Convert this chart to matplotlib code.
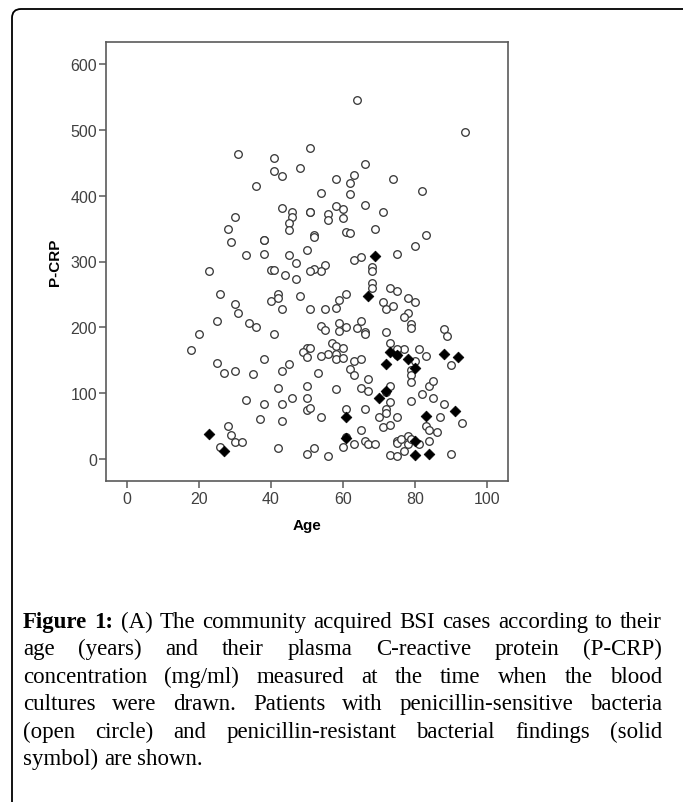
import matplotlib
matplotlib.use("Agg")
import matplotlib.pyplot as plt
from matplotlib.patches import FancyBboxPatch
from matplotlib.transforms import IdentityTransform

# penicillin-sensitive (open circles): age, P-CRP
sens_age = [64, 94, 31, 51, 41, 41, 43, 48, 66, 58, 63, 62, 62, 74, 82, 36, 54, 43, 46, 46,
            45, 45, 51, 51, 56, 56, 58, 60, 60, 61, 62, 66, 71, 69, 83, 80, 30, 28, 29, 33,
            38, 38, 38, 45, 47, 52, 52, 50, 55, 54, 52, 51, 40, 41, 44, 47, 23, 63, 65, 68,
            68, 68, 68, 75, 26, 30, 31, 25, 34, 36, 40, 42, 42, 43, 48, 51, 55, 58, 59, 61,
            59, 59, 61, 54, 55, 41, 20, 18, 71, 72, 73, 75, 74, 78, 80, 78, 77, 79, 79, 65,
            64, 66, 66, 72, 88, 89, 73, 57, 58, 60, 56, 58, 58, 60, 54, 50, 51, 49, 50, 63,
            65, 62, 63, 67, 25, 27, 30, 35, 38, 43, 45, 53, 33, 38, 42, 43, 46, 50, 50, 50,
            51, 54, 37, 43, 58, 61, 65, 67, 66, 70, 71, 73, 72, 72, 73, 73, 72, 75, 79, 82,
            84, 85, 85, 88, 87, 83, 84, 86, 84, 93, 90, 81, 83, 77, 75, 80, 79, 79, 79, 75,
            28, 29, 30, 32, 26, 42, 50, 52, 56, 60, 61, 63, 65, 66, 67, 69, 73, 75, 75, 75,
            76, 77, 78, 78, 79, 81, 90]
sens_crp = [545, 497, 464, 472, 458, 438, 430, 443, 448, 425, 432, 420, 403, 425, 408, 415, 404, 382, 376, 368,
            358, 348, 376, 376, 372, 363, 384, 380, 366, 345, 344, 386, 376, 349, 341, 324, 367, 349, 329, 310,
            332, 332, 312, 310, 298, 340, 338, 318, 295, 286, 288, 285, 287, 287, 279, 273, 285, 302, 307, 292,
            285, 268, 260, 311, 250, 235, 222, 210, 207, 200, 240, 250, 244, 228, 248, 228, 228, 230, 242, 250,
            207, 194, 201, 202, 196, 190, 189, 165, 239, 228, 260, 255, 233, 245, 239, 221, 216, 205, 199, 209,
            199, 192, 190, 193, 197, 187, 176, 176, 172, 168, 159, 159, 151, 153, 156, 169, 168, 163, 154, 148,
            151, 137, 127, 121, 146, 130, 134, 129, 151, 134, 144, 130, 89, 83, 107, 83, 93, 111, 92, 74,
            77, 64, 60, 57, 106, 75, 107, 103, 76, 64, 48, 51, 75, 69, 111, 86, 101, 64, 87, 99,
            111, 118, 93, 83, 64, 50, 43, 40, 27, 54, 143, 167, 156, 167, 167, 148, 135, 127, 116, 158,
            50, 36, 26, 25, 18, 16, 7, 16, 4, 17, 33, 22, 44, 27, 22, 22, 6, 4, 27, 24,
            30, 11, 35, 22, 30, 22, 7]

# penicillin-resistant (solid diamonds)
res_age = [23, 27, 69, 67, 73, 75, 72, 78, 80, 88, 92, 72, 70, 61, 83, 91, 61, 80, 80, 84]
res_crp = [38, 11, 309, 248, 162, 157, 144, 151, 138, 159, 155, 103, 92, 64, 65, 73, 32, 27, 6, 7]

x_ticks = [0, 20, 40, 60, 80, 100]
y_ticks = [0, 100, 200, 300, 400, 500, 600]

caption_lines = [
    "(A) The community acquired BSI cases according to their",
    "age (years) and their plasma C-reactive protein (P-CRP)",
    "concentration (mg/ml) measured at the time when the blood",
    "cultures were drawn. Patients with penicillin-sensitive bacteria",
    "(open circle) and penicillin-resistant bacterial findings (solid",
    "symbol) are shown.",
]

fig = plt.figure(figsize=(6.83, 8.03), dpi=100)
ax = fig.add_axes([106 / 683, 1 - 482 / 803, 402 / 683, 439 / 803])

ax.scatter(sens_age, sens_crp, s=30, facecolors="white", edgecolors="#3a3a3a", linewidths=0.95, zorder=2)
ax.scatter(res_age, res_crp, s=30, marker="D", color="black", linewidths=0.5, zorder=3)

ax.set_xlim(-5.7, 105.8)
ax.set_ylim(-34, 634)
ax.set_xticks(x_ticks)
ax.set_yticks(y_ticks)
for sp in ax.spines.values():
    sp.set_color("#5a5a5a")
    sp.set_linewidth(1.2)
ax.tick_params(axis="both", length=5, width=1.1, color="#5a5a5a",
               labelsize=11.5, labelcolor="#404040", pad=1.5)
ax.tick_params(axis="x", pad=2.5)
for lab in ax.get_xticklabels() + ax.get_yticklabels():
    lab.set_family("Liberation Sans")
ax.set_xlabel("Age", fontsize=11, fontweight="bold", family="Liberation Sans", labelpad=8)
ax.set_ylabel("P-CRP", fontsize=11, fontweight="bold", family="Liberation Sans", labelpad=6)

# outer rounded frame
frame = FancyBboxPatch((12, -20), 700, 813, boxstyle="round,pad=0,rounding_size=9",
                       transform=IdentityTransform(), fill=False, edgecolor="black", linewidth=1.3)
fig.patches.append(frame)

# justified caption
renderer = fig.canvas.get_renderer()
left, right = 23, 662
y0, dy = 803 - 628, 27.4
fs = 16.5
cap_font = "Liberation Serif"

def word_width(w, weight="normal"):
    t = fig.text(0, 0, w, fontsize=fs, family=cap_font, fontweight=weight, transform=IdentityTransform())
    wd = t.get_window_extent(renderer).width
    t.remove()
    return wd

for i, line in enumerate(caption_lines):
    y = y0 - i * dy
    words = [(w, "normal") for w in line.split()]
    if i == 0:
        words = [("Figure", "bold"), ("1:", "bold")] + words
    widths = [word_width(w, wt) for w, wt in words]
    if i < len(caption_lines) - 1:
        gap = (right - left - sum(widths)) / (len(words) - 1)
    else:
        gap = word_width("a b") - word_width("ab")
    x = left
    for (w, wt), wd in zip(words, widths):
        fig.text(x, y, w, fontsize=fs, family=cap_font, fontweight=wt,
                 transform=IdentityTransform(), va="baseline")
        x += wd + gap

fig.savefig("out.png", dpi=100)
